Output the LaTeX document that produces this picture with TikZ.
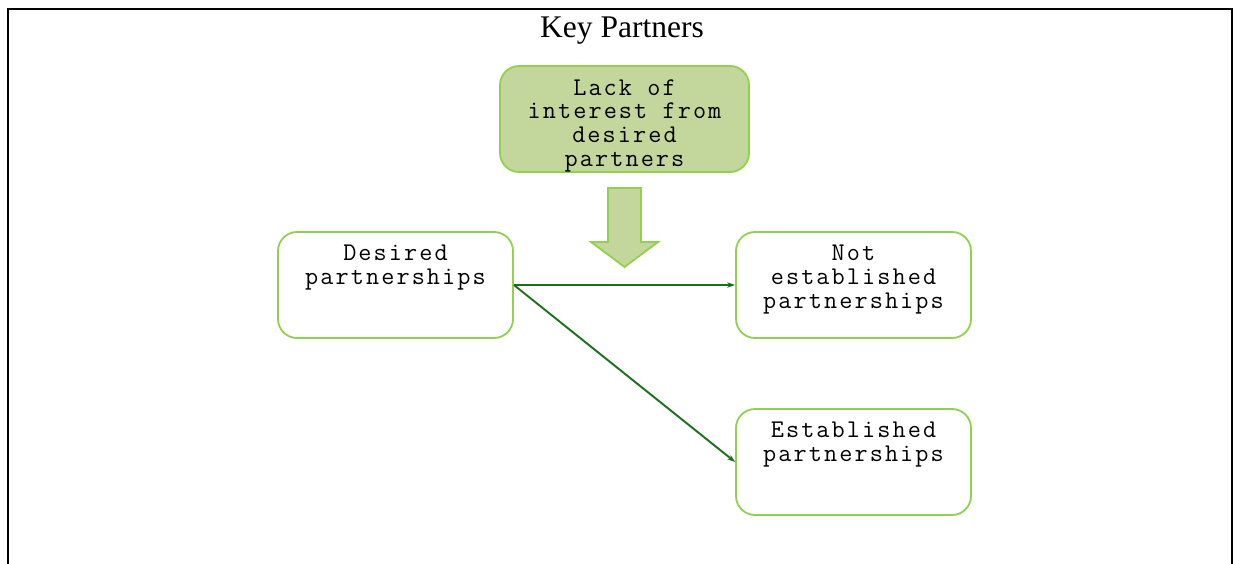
\documentclass[tikz,border=0pt]{standalone}
\usepackage{fontspec}
\setmainfont{Liberation Serif}
\newfontfamily\boxfont{Latin Modern Mono}[LetterSpace=8.2]
\usetikzlibrary{arrows.meta}

\definecolor{boxline}{HTML}{92D050}
\definecolor{boxfill}{HTML}{C3D69B}
\definecolor{linkgreen}{RGB}{26,112,26}

\tikzset{
  box/.style={draw=boxline, line width=1.8pt, rounded corners=19pt,
    minimum width=235pt, minimum height=106pt, inner sep=0pt},
  topbox/.style={box, fill=boxfill, minimum width=249pt},
  boxtext/.style={anchor=north, align=center, inner sep=0pt,
    font=\fontsize{25.5}{23.7}\selectfont\boxfont},
  link/.style={draw=linkgreen, line width=1.9pt,
    -{Stealth[length=8pt,width=5.5pt]}},
  frameline/.style={line width=2pt, black},
}

\begin{document}
\begin{tikzpicture}[x=1pt, y=-1pt]
\useasboundingbox (0,0) rectangle (1233,564);

% page frame
\draw[frameline] (8,564) -- (8,9) -- (1233,9);
\draw[frameline] (1231.5,9) -- (1231.5,564);

% heading
\node[anchor=base, inner sep=0pt, font=\fontsize{31.5}{36}\selectfont] (title) at (622,38) {Key Partners};

% cause box and block arrow
\node[topbox] (cause) at (624.5,119) {};
\node[boxtext] (causetext) at ([yshift=-14pt]cause.north) {Lack of\\interest from\\desired\\partners};

\filldraw[draw=boxline, fill=boxfill, line width=1.8pt, line join=miter]
  (608,188) -- (641,188) -- (641,242) -- (658,242) -- (624.5,267)
  -- (591,242) -- (608,242) -- cycle;

% outcome boxes
\node[box] (desired) at (395.5,285) {};
\node[boxtext] (desiredtext) at ([yshift=-14pt]desired.north) {Desired\\partnerships};

\node[box] (notest) at (853.5,285) {};
\node[boxtext] (notesttext) at ([yshift=-14pt]notest.north) {Not\\established\\partnerships};

\node[box] (est) at (853.5,462) {};
\node[boxtext] (esttext) at ([yshift=-14pt]est.north) {Established\\partnerships};

% connectors
\draw[link] (desired.east) -- (notest.west);
\draw[link] (desired.east) -- (est.west);
\end{tikzpicture}
\end{document}
